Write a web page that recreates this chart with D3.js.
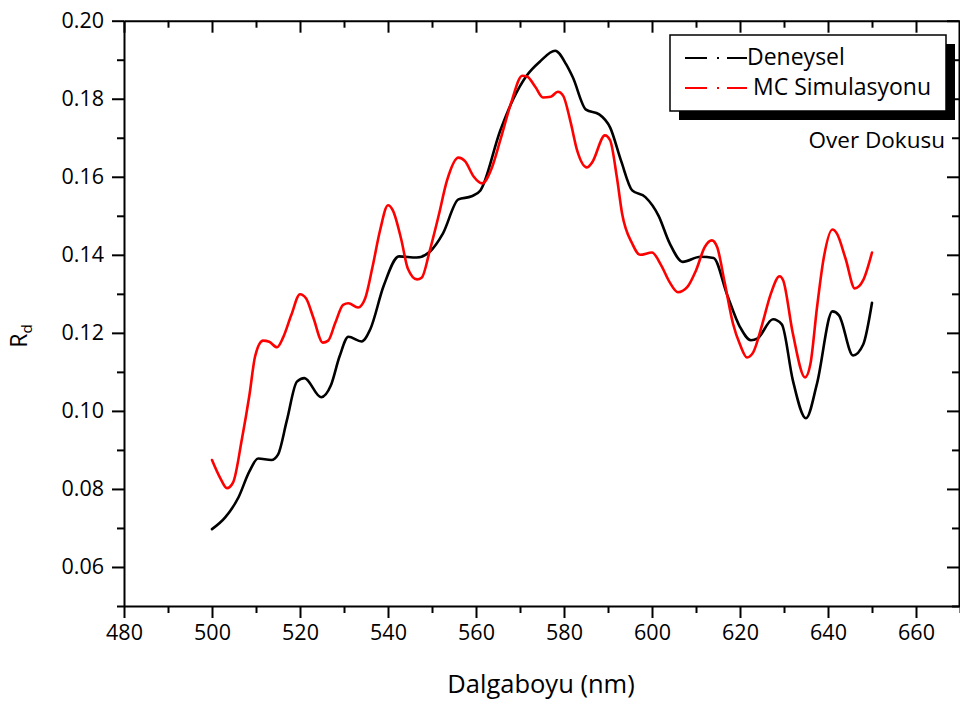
<!DOCTYPE html>
<html>
<head>
<meta charset="utf-8">
<script src="https://cdn.jsdelivr.net/npm/d3@7"></script>
<style>
  html, body { margin: 0; padding: 0; background: #fff; }
  svg { display: block; font-family: "Open Sans", "Noto Sans", sans-serif; }
</style>
</head>
<body>
<svg id="chart" width="960" height="702"></svg>
<script>
// Deneysel (measured) diffuse reflectance
const deneyselNm = [500, 503, 506, 508.5, 510.5, 513.5, 515, 517, 519.3, 521, 524.8, 527, 529, 531, 534, 536, 539, 542.5, 546.5, 549.5, 552.5, 556, 559, 561, 565.5, 568.5, 571.5, 574.5, 578, 580.5, 582, 585, 588, 590.5, 593, 595.5, 598.5, 601.5, 604, 607, 611, 614, 617, 620, 622.5, 624, 627.5, 629.5, 632, 635, 637.5, 641, 642.5, 645.7, 648, 650];
const deneyselRd = [0.0697, 0.0727, 0.0778, 0.0845, 0.0878, 0.0874, 0.0888, 0.0975, 0.1075, 0.1084, 0.1035, 0.1065, 0.1140, 0.1190, 0.1178, 0.1210, 0.1320, 0.1396, 0.1393, 0.1408, 0.1455, 0.1542, 0.1550, 0.1565, 0.1718, 0.1800, 0.1859, 0.1895, 0.1923, 0.1888, 0.1855, 0.1772, 0.1760, 0.1726, 0.1640, 0.1565, 0.1548, 0.1500, 0.1430, 0.1382, 0.1395, 0.1392, 0.1300, 0.1215, 0.1181, 0.1186, 0.1235, 0.1222, 0.1079, 0.0981, 0.1070, 0.1255, 0.1245, 0.1142, 0.1170, 0.1277];

// MC Simulasyonu (Monte Carlo) diffuse reflectance
const mcNm = [500, 502, 503.4, 504.8, 506.8, 508.5, 509.8, 511.6, 513, 514.8, 516.2, 518, 520, 521.4, 523, 525.2, 526.4, 528, 529.8, 531, 533.2, 534.8, 536.5, 538.2, 540, 541.1, 543, 544.5, 546.6, 547.7, 549.5, 551.5, 553.4, 556, 557.5, 559.5, 561.4, 563.5, 565.5, 568, 570.5, 571.6, 573.5, 575.2, 577, 578.6, 579.8, 581.5, 583, 585.2, 586.4, 589.3, 590.5, 592, 593.2, 595.5, 597.3, 600, 602, 604, 605.9, 608, 610, 612, 613.6, 614.8, 616.5, 618.4, 620, 621.6, 623, 625, 627, 629, 629.8, 632, 634.8, 636, 637.5, 639, 641, 642, 644, 646.1, 648, 650];
const mcRd = [0.0874, 0.0825, 0.0802, 0.0817, 0.0928, 0.1040, 0.1140, 0.1180, 0.1177, 0.1163, 0.1189, 0.1245, 0.1299, 0.1288, 0.1240, 0.1175, 0.1180, 0.1225, 0.1272, 0.1276, 0.1265, 0.1288, 0.1370, 0.1463, 0.1527, 0.1514, 0.1440, 0.1365, 0.1337, 0.1342, 0.1411, 0.1500, 0.1590, 0.1649, 0.1640, 0.1600, 0.1583, 0.1620, 0.1693, 0.1790, 0.1859, 0.1857, 0.1830, 0.1803, 0.1805, 0.1818, 0.1808, 0.1740, 0.1667, 0.1624, 0.1637, 0.1706, 0.1693, 0.1600, 0.1506, 0.1429, 0.1400, 0.1406, 0.1375, 0.1330, 0.1304, 0.1317, 0.1360, 0.1420, 0.1437, 0.1420, 0.1330, 0.1224, 0.1170, 0.1137, 0.1150, 0.1220, 0.1300, 0.1345, 0.1335, 0.1199, 0.1086, 0.1120, 0.1265, 0.1390, 0.1465, 0.1455, 0.1390, 0.1314, 0.1335, 0.1406];

// Tick values
const xMajorTicks = [480, 500, 520, 540, 560, 580, 600, 620, 640, 660];
const xMinorTicks = [490, 510, 530, 550, 570, 590, 610, 630, 650, 670];
const yMajorTicks = [0.06, 0.08, 0.10, 0.12, 0.14, 0.16, 0.18, 0.20];
const yMinorTicks = [0.05, 0.07, 0.09, 0.11, 0.13, 0.15, 0.17, 0.19];

const seriesNames = ["Deneysel", "MC Simulasyonu"];
const seriesColors = ["#000000", "#ff0000"];
const xTitle = "Dalgaboyu (nm)";
const panelLabel = "Over Dokusu";

const svg = d3.select("#chart");
const plotLeft = 124, plotRight = 960, plotTop = 20.7, plotBottom = 606;

const x = d3.scaleLinear().domain([480, 670]).range([plotLeft, plotRight]);
const y = d3.scaleLinear().domain([0.05, 0.20]).range([plotBottom, plotTop]);

const MAJ = 12, MIN = 7;
function styleAxis(g) {
  g.selectAll("path").attr("stroke", "#000").attr("stroke-width", 2);
  g.selectAll("line").attr("stroke", "#000").attr("stroke-width", 2);
  g.selectAll("text").attr("fill", "#000").style("font-size", "21.5px").style("font-family", "'Open Sans', sans-serif");
}

// bottom axis (outward ticks with labels)
svg.append("g").attr("transform", `translate(0,${plotBottom})`)
  .call(d3.axisBottom(x).tickValues(xMinorTicks).tickSize(MIN).tickSizeOuter(0).tickFormat(""))
  .call(styleAxis);
svg.append("g").attr("transform", `translate(0,${plotBottom})`)
  .call(d3.axisBottom(x).tickValues(xMajorTicks).tickSize(MAJ).tickSizeOuter(0).tickPadding(7).tickFormat(d3.format("d")))
  .call(styleAxis)
  .call(g => g.select("path").remove());

// top axis (inward ticks)
svg.append("g").attr("transform", `translate(0,${plotTop})`)
  .call(d3.axisBottom(x).tickValues(xMinorTicks).tickSize(MIN).tickSizeOuter(0).tickFormat(""))
  .call(styleAxis);
svg.append("g").attr("transform", `translate(0,${plotTop})`)
  .call(d3.axisBottom(x).tickValues(xMajorTicks).tickSize(MAJ).tickSizeOuter(0).tickFormat(""))
  .call(styleAxis)
  .call(g => g.select("path").remove());

// left axis (outward ticks with labels)
svg.append("g").attr("transform", `translate(${plotLeft},0)`)
  .call(d3.axisLeft(y).tickValues(yMinorTicks).tickSize(MIN).tickSizeOuter(0).tickFormat(""))
  .call(styleAxis);
svg.append("g").attr("transform", `translate(${plotLeft},0)`)
  .call(d3.axisLeft(y).tickValues(yMajorTicks).tickSize(MAJ).tickSizeOuter(0).tickPadding(8).tickFormat(d3.format(".2f")))
  .call(styleAxis)
  .call(g => g.select("path").remove());

// right axis (inward ticks)
const rightX = 959;
svg.append("g").attr("transform", `translate(${rightX},0)`)
  .call(d3.axisLeft(y).tickValues(yMinorTicks).tickSize(MIN).tickSizeOuter(0).tickFormat(""))
  .call(styleAxis);
svg.append("g").attr("transform", `translate(${rightX},0)`)
  .call(d3.axisLeft(y).tickValues(yMajorTicks).tickSize(MAJ).tickSizeOuter(0).tickFormat(""))
  .call(styleAxis)
  .call(g => g.select("path").remove());

// curves
const line = d3.line().x(d => x(d[0])).y(d => y(d[1])).curve(d3.curveMonotoneX);
const series = [
  d3.zip(deneyselNm, deneyselRd),
  d3.zip(mcNm, mcRd)
];
series.forEach((pts, i) => {
  svg.append("path").datum(pts)
    .attr("d", line)
    .attr("fill", "none")
    .attr("stroke", seriesColors[i])
    .attr("stroke-width", 2.6)
    .attr("stroke-linejoin", "round")
    .attr("stroke-linecap", "round");
});

// legend with drop shadow
const lg = svg.append("g");
const bx = 670, by = 35, bw = 276, bh = 76;
lg.append("rect").attr("x", bx + 9).attr("y", by + 9).attr("width", bw).attr("height", bh).attr("fill", "#000");
lg.append("rect").attr("x", bx).attr("y", by).attr("width", bw).attr("height", bh)
  .attr("fill", "#fff").attr("stroke", "#000").attr("stroke-width", 1.5);
const rows = [{yy: 58, tx: 747, ty: 65}, {yy: 88, tx: 753, ty: 95}];
seriesNames.forEach((name, i) => {
  lg.append("line").attr("x1", 685).attr("x2", 747).attr("y1", rows[i].yy).attr("y2", rows[i].yy)
    .attr("stroke", seriesColors[i]).attr("stroke-width", 2)
    .attr("stroke-dasharray", "22,10,2,8,20");
  lg.append("text").attr("x", rows[i].tx).attr("y", rows[i].ty)
    .style("font-size", "23px").attr("fill", "#000").text(name);
});

// panel label
svg.append("text").attr("x", 945).attr("y", 148).attr("text-anchor", "end")
  .style("font-size", "22.5px").attr("fill", "#000").text(panelLabel);

// axis titles
svg.append("text").attr("x", 541).attr("y", 693).attr("text-anchor", "middle")
  .style("font-size", "25.5px").attr("fill", "#000").text(xTitle);

const yt = svg.append("text").attr("transform", "translate(27,336) rotate(-90)")
  .attr("text-anchor", "middle").style("font-size", "23px").attr("fill", "#000");
yt.append("tspan").text("R");
yt.append("tspan").attr("dy", 5).style("font-size", "15px").text("d");
</script>
</body>
</html>
